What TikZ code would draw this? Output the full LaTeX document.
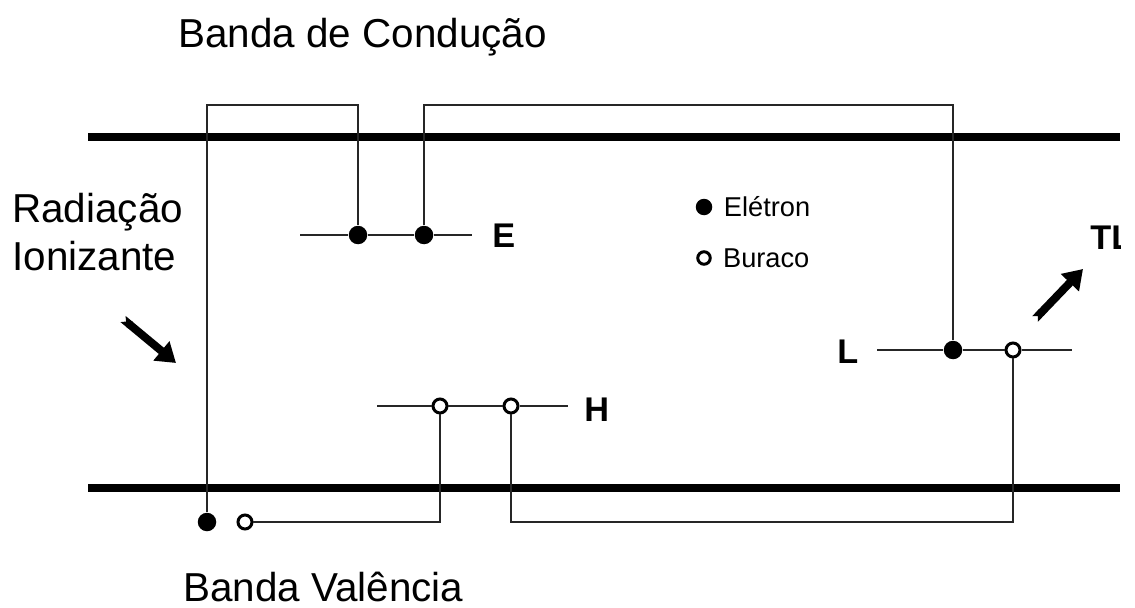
\documentclass[tikz,border=0pt]{standalone}
\usepackage{fontspec}
\setmainfont{Liberation Sans}
\usetikzlibrary{arrows.meta, positioning}

\begin{document}
\begin{tikzpicture}[
    x=0.02cm, y=-0.02cm,
    band/.style={line width=4pt},
    wire/.style={line width=1pt, black!85},
    eletron/.style={circle, fill=black, inner sep=0pt, minimum size=0.37cm},
    buraco/.style={circle, draw=black, line width=1.7pt, fill=white, inner sep=0pt, minimum size=0.28cm},
    label/.style={font=\fontsize{23}{27}\selectfont, anchor=base west, inner sep=0pt},
    level/.style={font=\bfseries\fontsize{19.5}{23}\selectfont, anchor=west, inner sep=0pt},
    legend/.style={font=\fontsize{15.5}{18}\selectfont, anchor=west, inner sep=0pt},
    bigarrow/.style={line width=0.16cm, {Triangle Cap[reversed]}-{Triangle[length=0.38cm, width=0.48cm]}}
]
\clip (0,0) rectangle (1135,608);

\draw [band] (88,137) -- (1120,137);
\draw [band] (88,488) -- (1120,488);

\node (conducao) [label] at (178,48) {Banda de Condução};
\node (valencia) [label] at (183,601) {Banda Valência};
\node (radiacao) [label] at (12,222) {Radiação};
\node (ionizante) [label] at (12,270) {Ionizante};

\node (e1) [eletron] at (358,235) {};
\node (e2) [eletron] at (424,235) {};
\node (h1) [buraco] at (440,406) {};
\node (h2) [buraco] at (511,406) {};
\node (l1) [eletron] at (953,350) {};
\node (l2) [buraco] at (1013,350) {};
\node (v1) [eletron] at (207,522) {};
\node (v2) [buraco] at (245,522) {};

\node (nivelE) [level] at (492,236) {E};
\node (nivelH) [level] at (584,410) {H};
\node (nivelL) [level] at (837,352) {L};
\begin{scope}
  \clip (1000,200) rectangle (1120.5,280);
  \node (tl) [level] at (1090,238) {TL};
\end{scope}

\node (legE) [eletron, minimum size=0.33cm] at (704,207) {};
\node (legB) [buraco, minimum size=0.25cm] at (704,258) {};
\node (txtE) [legend, right=0.22cm of legE] {Elétron};
\node (txtB) [legend, right=0.22cm of legB] {Buraco};

\coordinate (eIni) at (300,235);
\coordinate (eFim) at (472,235);
\coordinate (hIni) at (377,406);
\coordinate (hFim) at (568,406);
\coordinate (lIni) at (877,350);
\coordinate (lFim) at (1072,350);
\coordinate (topo) at (0,105);
\coordinate (fundo) at (0,522);

\draw [wire] (eIni) -- (e1) -- (e2) -- (eFim);
\draw [wire] (hIni) -- (h1) -- (h2) -- (hFim);
\draw [wire] (lIni) -- (l1) -- (l2) -- (lFim);

\draw [wire] (v1) -- (v1 |- topo) -| (e1);
\draw [wire] (e2) -- (e2 |- topo) -| (l1);
\draw [wire] (v2) -| (h1);
\draw [wire] (h2) -- (h2 |- fundo) -| (l2);

\coordinate (radA) at (123,319);
\coordinate (radB) at (176,363);
\coordinate (tlA) at (1035,319);
\coordinate (tlB) at (1083,269);
\draw [bigarrow] (radA) -- (radB);
\draw [bigarrow] (tlA) -- (tlB);
\end{tikzpicture}
\end{document}
